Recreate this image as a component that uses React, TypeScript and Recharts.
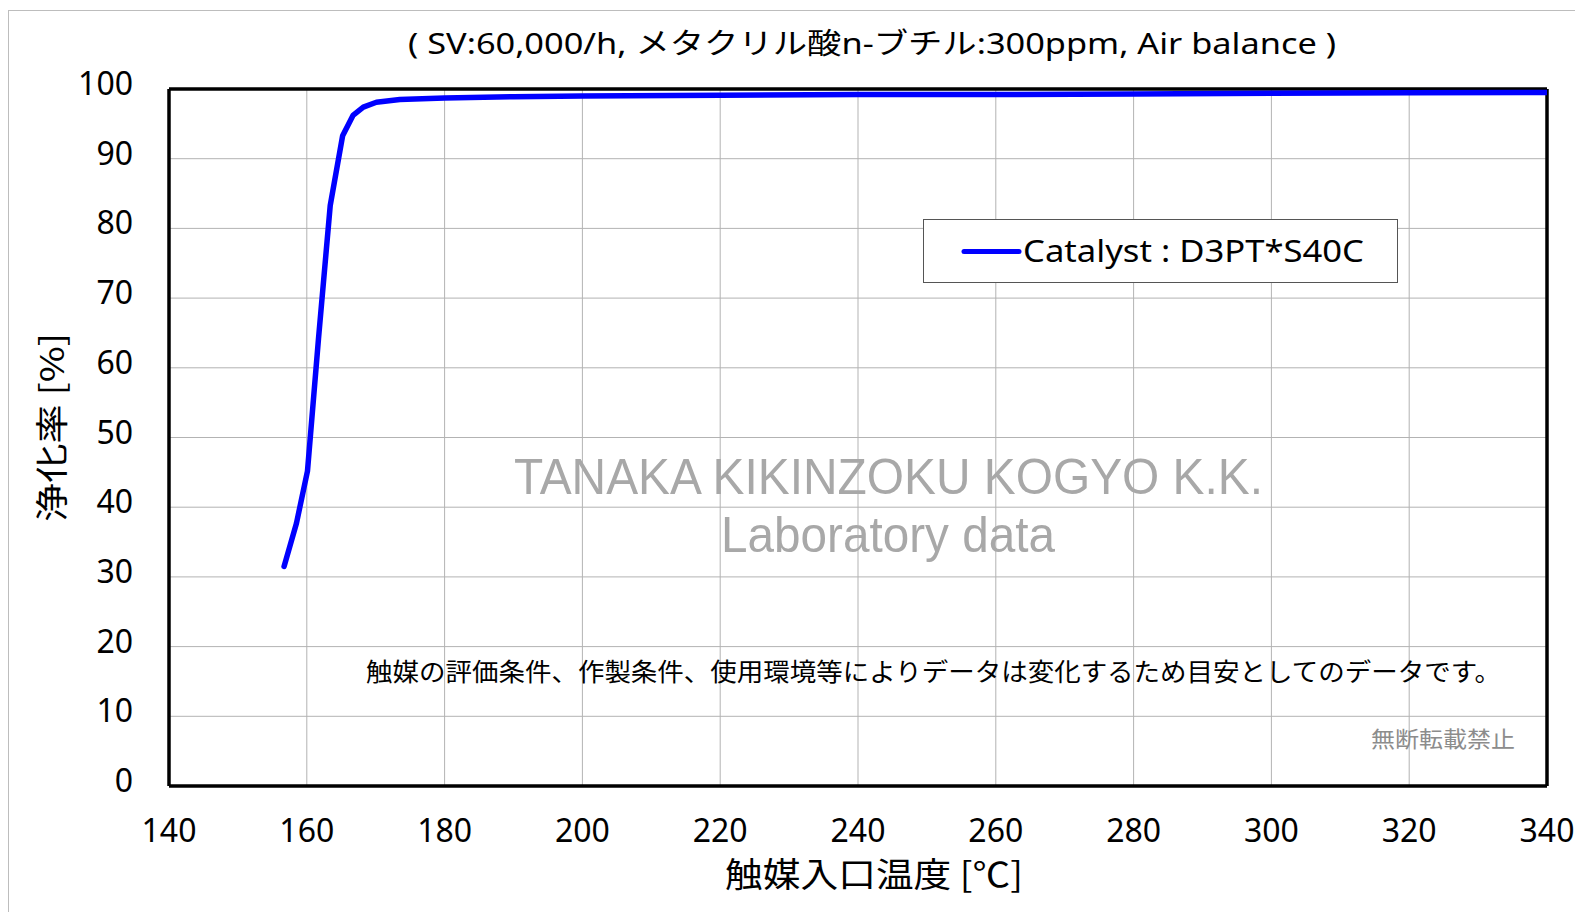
import React from "react";
import {
  LineChart,
  Line,
  XAxis,
  YAxis,
  CartesianGrid,
  ReferenceLine,
  Legend,
} from "recharts";

// catalyst inlet temperature [°C] vs conversion [%]
const temps = [156.7, 158.5, 160.1, 161.7, 163.4, 165.2, 166.7, 168.2, 170.1, 173.5, 180, 190, 200, 220, 240, 260, 280, 300, 320, 340];
const conversion = [31.5, 37.7, 45.2, 64.2, 83.3, 93.3, 96.2, 97.4, 98.1, 98.5, 98.7, 98.9, 99.0, 99.1, 99.2, 99.2, 99.3, 99.4, 99.45, 99.5];

const xTicks = [140, 160, 180, 200, 220, 240, 260, 280, 300, 320, 340];
const yTicks = [0, 10, 20, 30, 40, 50, 60, 70, 80, 90, 100];

const SERIES_NAME = "Catalyst : D3PT*S40C";
const TITLE = "( SV:60,000/h, メタクリル酸n-ブチル:300ppm, Air balance )";
const X_LABEL = "触媒入口温度 [℃]";
const Y_LABEL = "浄化率 [%]";
const WATERMARK = ["TANAKA KIKINZOKU KOGYO K.K.", "Laboratory data"];
const NOTE = "触媒の評価条件、作製条件、使用環境等によりデータは変化するため目安としてのデータです。";
const NO_REPRINT = "無断転載禁止";

const W = 1575;
const H = 912;

const COLORS = {
  line: "#0000FF",
  grid: "#b3b3b3",
  frame: "#000000",
  watermark: "#a8a8a8",
  soft: "#8c8c8c",
  border: "#bdbdbd",
};

const LATIN = "'Noto Sans', 'Noto Sans CJK JP', sans-serif";
const CJK = "'Noto Sans CJK JP', 'Noto Sans', sans-serif";
const WM_FONT = "'Liberation Sans', Arial, sans-serif";

const data = temps.map((t, i) => ({ t, v: conversion[i] }));

function XTick(props: any) {
  const { x, y, payload } = props;
  return (
    <text x={x} y={y} textAnchor="middle" fontSize={32} fontFamily={LATIN} fill="#000">
      {payload.value}
    </text>
  );
}

function YTick(props: any) {
  const { x, y, payload } = props;
  return (
    <text x={x} y={y + 6} textAnchor="end" fontSize={32} fontFamily={LATIN} fill="#000">
      {payload.value}
    </text>
  );
}

function LegendBox() {
  return (
    <div
      style={{
        width: 475,
        height: 64,
        boxSizing: "border-box",
        border: "1.5px solid #555",
        background: "#fff",
      }}
    >
      <svg width={472} height={61} style={{ display: "block" }}>
        <line x1={40} y1={31.5} x2={95} y2={31.5} stroke={COLORS.line} strokeWidth={5} strokeLinecap="round" />
        <text x={99} y={42} fontSize={31} fontFamily={LATIN} fill="#000" textLength={341} lengthAdjust="spacingAndGlyphs">
          {SERIES_NAME}
        </text>
      </svg>
    </div>
  );
}

export default function App() {
  return (
    <div style={{ position: "absolute", left: 0, top: 0, width: W, height: H, background: "#fff" }}>
      <LineChart width={W} height={H} data={data} margin={{ top: 89, right: 28, bottom: 0, left: 0 }}>
        <CartesianGrid stroke={COLORS.grid} strokeWidth={1} />
        <XAxis
          dataKey="t"
          type="number"
          domain={[140, 340]}
          ticks={xTicks}
          height={126}
          tickSize={0}
          tickMargin={56}
          tick={<XTick />}
          axisLine={{ stroke: COLORS.frame, strokeWidth: 3.5 }}
          allowDataOverflow
        />
        <YAxis
          type="number"
          domain={[0, 100]}
          ticks={yTicks}
          width={169}
          tickSize={0}
          tickMargin={36}
          tick={<YTick />}
          axisLine={{ stroke: COLORS.frame, strokeWidth: 3.5 }}
          allowDataOverflow
        />
        <ReferenceLine y={100} stroke={COLORS.frame} strokeWidth={3.5} />
        <ReferenceLine x={340} stroke={COLORS.frame} strokeWidth={3.5} />
        <Legend
          layout="vertical"
          align="center"
          verticalAlign="middle"
          content={() => <LegendBox />}
          wrapperStyle={{ left: 923, top: 219, width: 475, height: 64 }}
        />
        <Line
          type="linear"
          dataKey="v"
          name={SERIES_NAME}
          stroke={COLORS.line}
          strokeWidth={5.5}
          strokeLinecap="round"
          strokeLinejoin="round"
          dot={false}
          isAnimationActive={false}
        />
      </LineChart>

      {/* titles, axis captions, watermark and footnotes */}
      <svg
        width={W}
        height={H}
        style={{ position: "absolute", left: 0, top: 0, pointerEvents: "none" }}
      >
        <rect x={8.5} y={10.5} width={W + 10} height={H + 10} fill="none" stroke={COLORS.border} strokeWidth={1} />
        <text x={408} y={54} fontSize={29} fontFamily={LATIN} fill="#000" textLength={928} lengthAdjust="spacingAndGlyphs">
          {TITLE}
        </text>
        <text x={725} y={887} fontSize={34} fontFamily={CJK} fill="#000" textLength={298} lengthAdjust="spacingAndGlyphs">
          {X_LABEL}
        </text>
        <text
          x={0}
          y={0}
          transform="translate(64 522) rotate(-90)"
          fontSize={33}
          fontFamily={CJK}
          fill="#000"
          textLength={189}
          lengthAdjust="spacingAndGlyphs"
        >
          {Y_LABEL}
        </text>
        <text x={514} y={494} fontSize={50} fontFamily={WM_FONT} fill={COLORS.watermark} textLength={749} lengthAdjust="spacingAndGlyphs">
          {WATERMARK[0]}
        </text>
        <text x={721} y={552} fontSize={50} fontFamily={WM_FONT} fill={COLORS.watermark} textLength={334} lengthAdjust="spacingAndGlyphs">
          {WATERMARK[1]}
        </text>
        <text x={366} y={681} fontSize={25} fontFamily={CJK} fill="#000" textLength={1135} lengthAdjust="spacingAndGlyphs">
          {NOTE}
        </text>
        <text x={1371} y={747} fontSize={22} fontFamily={CJK} fill={COLORS.soft} textLength={144} lengthAdjust="spacingAndGlyphs">
          {NO_REPRINT}
        </text>
      </svg>
    </div>
  );
}
